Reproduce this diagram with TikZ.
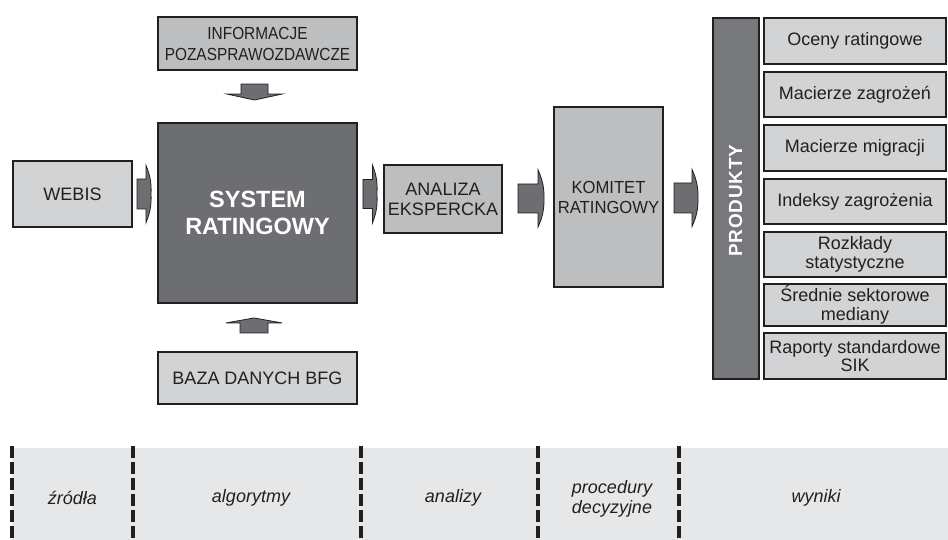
\documentclass[tikz,border=0pt]{standalone}
\usepackage{fontspec}
\setmainfont{Liberation Sans}
\newfontfamily\condfont{Liberation Sans}[FakeStretch=0.88]
\newfontfamily\semifont{Liberation Sans}[FakeStretch=0.95]
\usetikzlibrary{calc}
\definecolor{edge}{HTML}{231F20}
\definecolor{boxlight}{HTML}{D1D3D4}
\definecolor{boxmid}{HTML}{BCBEC0}
\definecolor{darkfill}{HTML}{6D6E71}
\definecolor{barfill}{HTML}{77787B}
\definecolor{bandfill}{HTML}{E6E7E8}
% right-pointing block arrow: #1 start (left middle), #2 shaft length, #3 tip length, #4 shaft half height, #5 head half height
\newcommand{\blockR}[5]{%
  \draw[blockarrow] #1 ++(0,-#4) -- ++(#2,0) -- ++(0,{-(#5-#4)})
    to[bend left=12] ++(#3,#5) to[bend left=12] ++(-#3,#5)
    -- ++(0,{-(#5-#4)}) -- ++(-#2,0) -- cycle;}
% vertical block arrow: #1 start (middle of shaft end), #2 shaft length (+ down), #3 tip length, #4 shaft half width, #5 head half width
\newcommand{\blockV}[5]{%
  \draw[blockarrow] #1 ++(-#4,0) -- ++(0,#2) -- ++({-(#5-#4)},0)
    -- ++(#5,#3) -- ++(#5,-#3)
    -- ++({-(#5-#4)},0) -- ++(0,-#2) -- cycle;}
\begin{document}
\begin{tikzpicture}[x=1pt,y=-1pt,
  box/.style={draw=edge, line width=1.6pt, inner sep=0pt, align=center,
    font=\fontsize{18}{20}\selectfont, text=edge},
  prodbox/.style={box, fill=boxlight, minimum width=182.5pt},
  blockarrow/.style={draw=edge, line width=0.8pt, fill=darkfill, line join=miter},
  sep/.style={draw=edge, line width=3.3pt, dash pattern=on 11.5pt off 4.5pt},
  phase/.style={font=\fontsize{18}{20}\selectfont\itshape, text=edge, align=center}]
\useasboundingbox (0,0) rectangle (948,540);

% bottom band
\fill[bandfill] (12,448) rectangle (948,540);
\foreach \xx in {12,133,361,538,679} \draw[sep] (\xx,446) -- (\xx,540);
\node[phase] (p1) at (72.5,498) {źródła};
\node[phase] (p2) at (251,498) {algorytmy};
\node[phase] (p3) at (453,498) {analizy};
\node[phase] (p4) at (612,499) {procedury\\decyzyjne};
\node[phase] (p5) at (816,498) {wyniki};

% boxes
\node[box, fill=boxmid, minimum width=199.5pt, minimum height=53.5pt,
  font=\condfont\fontsize{17.5}{21}\selectfont] (info) at (257.5,43.5) {INFORMACJE\\POZASPRAWOZDAWCZE};
\node[box, fill=boxlight, minimum width=119.5pt, minimum height=66.5pt] (webis) at (72.5,194) {WEBIS};
\node[box, fill=darkfill, minimum width=199.5pt, minimum height=180.5pt, text=white,
  font=\bfseries\fontsize{23.5}{27}\selectfont] (sys) at (257.5,213) {SYSTEM\\RATINGOWY};
\node[box, fill=boxmid, minimum width=118.5pt, minimum height=68.5pt] (ana) at (443,199) {ANALIZA\\EKSPERCKA};
\node[box, fill=boxmid, minimum width=109.5pt, minimum height=180.5pt,
  font=\semifont\fontsize{17.5}{20}\selectfont] (kom) at (608.5,197) {KOMITET\\RATINGOWY};
\node[box, fill=boxlight, minimum width=199.5pt, minimum height=52.5pt] (baza) at (257.5,378) {BAZA DANYCH BFG};

% products
\node[box, fill=barfill, minimum width=46.5pt, minimum height=361.5pt] (prod) at (736,198.5) {};
\node[rotate=90, text=white, inner sep=0pt,
  font=\bfseries\fontsize{19}{20}\selectfont\addfontfeature{LetterSpace=4}] (prodlbl) at (735.5,200.5) {PRODUKTY};
\node[prodbox, minimum height=46.5pt] (r1) at (855,41) {Oceny ratingowe};
\node[prodbox, minimum height=45.5pt] (r2) at (855,94.5) {Macierze zagrożeń};
\node[prodbox, minimum height=46.5pt] (r3) at (855,148) {Macierze migracji};
\node[prodbox, minimum height=45.5pt] (r4) at (855,201.5) {Indeksy zagrożenia};
\node[prodbox, minimum height=45.5pt, font=\fontsize{18}{18.5}\selectfont] (r5) at (855,254.5) {Rozkłady\\statystyczne};
\node[prodbox, minimum height=42.5pt, font=\fontsize{18}{18.5}\selectfont] (r6) at (855,305) {Średnie sektorowe\\mediany};
\node[prodbox, minimum height=46.5pt, font=\fontsize{18}{18.5}\selectfont] (r7) at (855,356) {Raporty standardowe\\SIK};

% block arrows between named nodes
\blockR{($(webis.east)+(4,0)$)}{9}{5}{15}{28.5}
\blockR{($(ana.west)+(-20,-5)$)}{9.5}{4.5}{14.5}{29}
\blockR{($(ana.east)+(15,-0.5)$)}{20}{6}{14.5}{28.5}
\blockR{($(kom.east)+(10,1)$)}{18}{6}{15}{28.5}
\blockV{($(info.south)+(-3,13)$)}{10}{6}{13.5}{27.5}
\blockV{($(baza.north)+(-3.5,-18)$)}{-10}{-5}{14}{28}
\end{tikzpicture}
\end{document}
